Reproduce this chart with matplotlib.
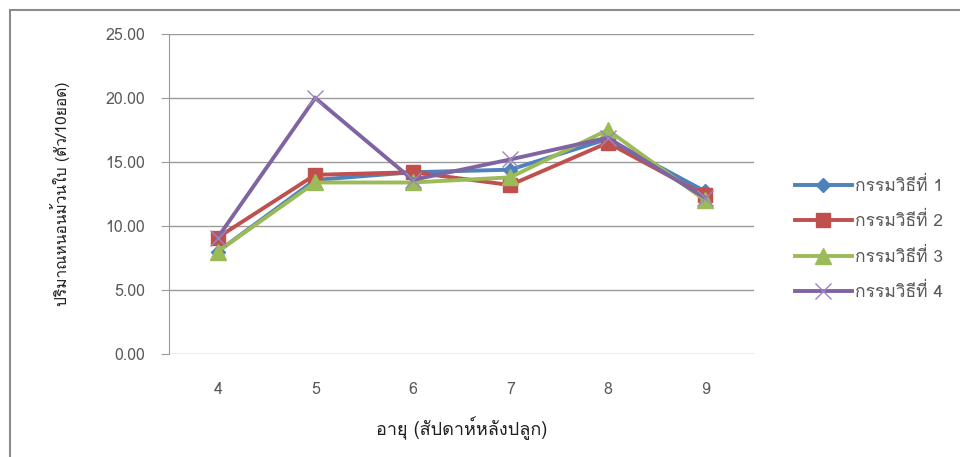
import matplotlib
matplotlib.use("Agg")
import matplotlib.pyplot as plt
from matplotlib import font_manager
from matplotlib.ft2font import FT2Font
from matplotlib.patches import Rectangle

# Data
weeks = ["4", "5", "6", "7", "8", "9"]
series_names = ["กรรมวิธีที่ 1", "กรรมวิธีที่ 2", "กรรมวิธีที่ 3", "กรรมวิธีที่ 4"]
method1 = [8.0, 13.6, 14.2, 14.4, 16.8, 12.7]
method2 = [9.1, 14.0, 14.2, 13.2, 16.5, 12.4]
method3 = [8.0, 13.4, 13.4, 13.8, 17.5, 12.0]
method4 = [9.1, 20.0, 13.6, 15.2, 16.9, 12.2]
y_ticks = [0, 5, 10, 15, 20, 25]
x_title = "อายุ (สัปดาห์หลังปลูก)"
y_title = "ปริมาณหนอนม้วนใบ (ตัว/10ยอด)"


def thai_fonts():
    """Installed families that carry Thai glyphs."""
    seen = set()
    names = []
    for f in font_manager.fontManager.ttflist:
        if f.name in seen:
            continue
        try:
            cmap = FT2Font(f.fname).get_charmap()
        except Exception:
            continue
        if 0x0E01 in cmap:
            seen.add(f.name)
            names.append(f.name)
    return names


plt.rcParams["font.family"] = thai_fonts() + ["DejaVu Sans"]

fig = plt.figure(figsize=(9.6, 4.57), dpi=100)
ax = fig.add_axes([169 / 960, 1 - 354 / 457, (754 - 169) / 960, (354 - 34) / 457])

colors = ["#4F81BD", "#C0504D", "#9BBB59", "#8064A2"]
markers = ["D", "s", "^", "x"]
sizes = [7.5, 10.5, 11.5, 11]
data = [method1, method2, method3, method4]
x = list(range(len(weeks)))
for vals, name, c, m, s in zip(data, series_names, colors, markers, sizes):
    kw = dict(markeredgecolor=c, markerfacecolor=c)
    if m == "x":
        kw = dict(markeredgecolor="#9C84C0", markeredgewidth=1.0)
    ax.plot(x, vals, color=c, lw=2.8, marker=m, markersize=s, label=name,
            solid_joinstyle="miter", **kw)

ax.set_xlim(-0.5, len(weeks) - 0.5)
ax.set_ylim(0, 25)
ax.set_yticks(y_ticks)
ax.set_yticklabels([f"{v:.2f}" for v in y_ticks], color="#595959", fontsize=11.5)
ax.set_xticks(x)
ax.set_xticklabels(weeks, color="#595959", fontsize=11.5)
ax.yaxis.grid(True, color="#9a9a9a", lw=1)
ax.set_axisbelow(True)
for side in ["top", "right", "bottom"]:
    ax.spines[side].set_visible(False)
ax.spines["left"].set_color("#9a9a9a")
ax.tick_params(axis="y", length=6, color="#9a9a9a", pad=11)
ax.tick_params(axis="x", length=0, pad=20)

ax.set_xlabel(x_title, fontsize=13, color="#202020", labelpad=13)
ax.set_ylabel(y_title, fontsize=11.2, color="#202020", labelpad=26)

ax.legend(loc="center left", bbox_to_anchor=(1.043, 0.36), frameon=False,
          fontsize=12.5, handlelength=3.3, handletextpad=0.15,
          labelspacing=1.0, labelcolor="#595959")

# outer chart border
fig.patches.append(Rectangle((10 / 960, -0.1), 1.2, 1 - 10 / 457 + 0.1,
                             transform=fig.transFigure, fill=False,
                             edgecolor="#8c8c8c", lw=1.5))

fig.savefig("out.png", dpi=100)
